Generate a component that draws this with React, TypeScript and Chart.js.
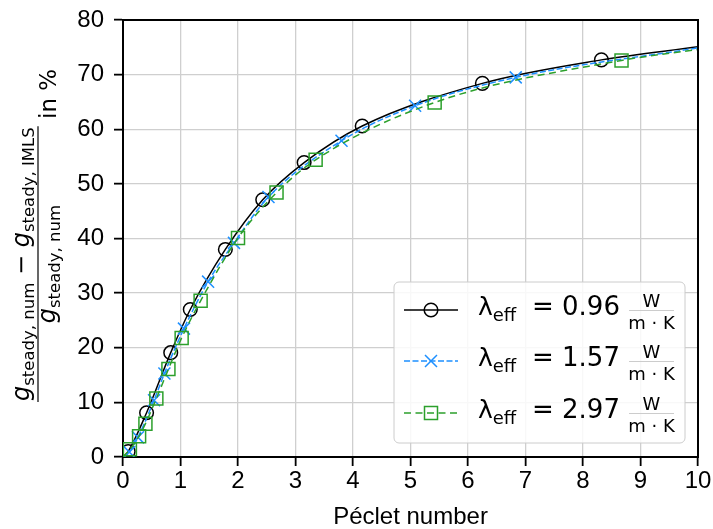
import React, { useEffect, useRef } from "react";
import { Chart, registerables } from "chart.js";

Chart.register(...registerables);

// Péclet number (x) and deviation in % (y) at marker positions
const peBlack = [0.09, 0.41, 0.83, 1.17, 1.78, 2.43, 3.15, 4.16, 6.25, 8.32];
const devBlack = [1.0, 8.1, 19.1, 27.0, 38.0, 47.1, 53.9, 60.6, 68.4, 72.7];
const peBlue = [0.11, 0.26, 0.54, 0.72, 1.06, 1.48, 1.93, 2.53, 3.8, 5.08, 6.83];
const devBlue = [0.9, 3.6, 10.4, 15.3, 23.5, 32.1, 39.2, 47.6, 57.9, 64.3, 69.5];
const peGreen = [0.12, 0.28, 0.39, 0.58, 0.79, 1.02, 1.35, 2.0, 2.67, 3.35, 5.42, 8.67];
const devGreen = [1.4, 3.8, 6.1, 10.7, 16.1, 21.8, 28.6, 40.1, 48.4, 54.4, 64.9, 72.6];
// curve start / end values (Pe = 0 and Pe = 10)
const peStart = 0;
const peEnd = 10;
const devStart = [0, 0, 0];
const devEnd = [75.1, 74.9, 74.6];

const lambdaValues = ["0.96", "1.57", "2.97"];
const xTicks = [0, 1, 2, 3, 4, 5, 6, 7, 8, 9, 10];
const yTicks = [0, 10, 20, 30, 40, 50, 60, 70, 80];
const xTitle = "Péclet number";

const BLACK = "#000000";
const BLUE = "#1e90ff";
const GREEN = "#2ca02c";

function buildPoints(xs: number[], ys: number[], s: number, e: number) {
  const pts = [{ x: peStart, y: s }];
  xs.forEach((x, i) => pts.push({ x, y: ys[i] }));
  pts.push({ x: peEnd, y: e });
  return pts;
}
function radii(n: number, r: number) {
  const arr = [0];
  for (let i = 0; i < n; i++) arr.push(r);
  arr.push(0);
  return arr;
}

const MATH = '"DejaVu Sans"';

type Run = { t: string; size: number; italic?: boolean; dy?: number };
function setFont(ctx: CanvasRenderingContext2D, r: Run) {
  ctx.font = `${r.italic ? "oblique " : ""}${r.size}px ${MATH}`;
}
function runsWidth(ctx: CanvasRenderingContext2D, runs: Run[]) {
  let w = 0;
  for (const r of runs) {
    setFont(ctx, r);
    w += ctx.measureText(r.t).width;
  }
  return w;
}
function drawRuns(ctx: CanvasRenderingContext2D, runs: Run[], x: number, y: number) {
  let cx = x;
  for (const r of runs) {
    setFont(ctx, r);
    ctx.fillText(r.t, cx, y + (r.dy || 0));
    cx += ctx.measureText(r.t).width;
  }
  return cx;
}

function drawMarker(ctx: CanvasRenderingContext2D, kind: string, x: number, y: number, color: string) {
  ctx.save();
  ctx.strokeStyle = color;
  ctx.lineWidth = 1.5;
  ctx.setLineDash([]);
  ctx.beginPath();
  if (kind === "circle") {
    ctx.arc(x, y, 6.8, 0, Math.PI * 2);
  } else if (kind === "cross") {
    ctx.moveTo(x - 6, y - 6);
    ctx.lineTo(x + 6, y + 6);
    ctx.moveTo(x - 6, y + 6);
    ctx.lineTo(x + 6, y - 6);
  } else {
    ctx.rect(x - 6.5, y - 6.5, 13, 13);
  }
  ctx.stroke();
  ctx.restore();
}

const overlay = {
  id: "overlay",
  afterDraw(chart: any) {
    const ctx: CanvasRenderingContext2D = chart.ctx;
    const a = chart.chartArea;
    ctx.save();
    // top and right spines
    ctx.strokeStyle = "#000";
    ctx.lineWidth = 2;
    ctx.setLineDash([]);
    ctx.beginPath();
    ctx.moveTo(a.left - 1, a.top);
    ctx.lineTo(a.right, a.top);
    ctx.lineTo(a.right, a.bottom + 1);
    ctx.stroke();

    // y-axis label (rotated fraction)
    ctx.fillStyle = "#000";
    ctx.textAlign = "left";
    ctx.textBaseline = "alphabetic";
    ctx.save();
    ctx.translate(0, 402);
    ctx.rotate(-Math.PI / 2);
    const num: Run[] = [
      { t: "g", size: 24, italic: true },
      { t: "steady, num", size: 16.5, dy: 5 },
      { t: " − ", size: 24 },
      { t: "g", size: 24, italic: true },
      { t: "steady, IMLS", size: 16.5, dy: 5 },
    ];
    const den: Run[] = [
      { t: "g", size: 24, italic: true },
      { t: "steady, num", size: 16.5, dy: 5 },
    ];
    const wn = runsWidth(ctx, num);
    const wd = runsWidth(ctx, den);
    const wf = Math.max(wn, wd) + 2;
    drawRuns(ctx, num, (wf - wn) / 2, 29);
    drawRuns(ctx, den, (wf - wd) / 2, 55);
    ctx.lineWidth = 1.2;
    ctx.beginPath();
    ctx.moveTo(0, 38);
    ctx.lineTo(wf, 38);
    ctx.stroke();
    drawRuns(ctx, [{ t: " in %", size: 23 }], wf, 56);
    ctx.restore();

    // legend
    const bx = a.right - 304;
    const by = a.bottom - 175;
    const bw = 291;
    const bh = 161;
    ctx.beginPath();
    const r = 5;
    ctx.moveTo(bx + r, by);
    ctx.arcTo(bx + bw, by, bx + bw, by + bh, r);
    ctx.arcTo(bx + bw, by + bh, bx, by + bh, r);
    ctx.arcTo(bx, by + bh, bx, by, r);
    ctx.arcTo(bx, by, bx + bw, by, r);
    ctx.closePath();
    ctx.fillStyle = "rgba(255,255,255,0.85)";
    ctx.fill();
    ctx.strokeStyle = "#cccccc";
    ctx.lineWidth = 1;
    ctx.stroke();

    const rows = [
      { color: BLACK, dash: [] as number[], marker: "circle", yc: by + 28 },
      { color: BLUE, dash: [6, 2.5], marker: "cross", yc: by + 79 },
      { color: GREEN, dash: [7, 4.5], marker: "square", yc: by + 131 },
    ];
    rows.forEach((row, i) => {
      const yc = row.yc;
      ctx.save();
      ctx.strokeStyle = row.color;
      ctx.lineWidth = 1.5;
      ctx.setLineDash(row.dash);
      ctx.beginPath();
      ctx.moveTo(bx + 10, yc);
      ctx.lineTo(bx + 64, yc);
      ctx.stroke();
      ctx.restore();
      drawMarker(ctx, row.marker, bx + 37, yc, row.color);

      ctx.fillStyle = "#000";
      ctx.textAlign = "left";
      drawRuns(ctx, [{ t: "λ", size: 25 }, { t: "eff", size: 18, dy: 6 }], bx + 84, yc + 5);
      drawRuns(ctx, [{ t: "= " + lambdaValues[i], size: 26 }], bx + 138, yc + 5);
      // fraction W / (m · K)
      const fx0 = bx + 235;
      const fx1 = bx + 280;
      const fc = (fx0 + fx1) / 2;
      ctx.lineWidth = 1;
      ctx.beginPath();
      ctx.moveTo(fx0, yc + 0.5);
      ctx.lineTo(fx1, yc + 0.5);
      ctx.stroke();
      ctx.textAlign = "center";
      ctx.font = `18px ${MATH}`;
      ctx.fillText("W", fc, yc - 3);
      ctx.fillText("m · K", fc, yc + 19);
      ctx.textAlign = "left";
    });
    ctx.restore();
  },
};

export default function App() {
  const ref = useRef<HTMLCanvasElement | null>(null);
  useEffect(() => {
    if (!ref.current) return;
    const tickFont = { family: '"Liberation Sans", Arial, sans-serif', size: 24 };
    const common = {
      type: "linear" as const,
      grid: {
        color: "#cfcfcf",
        lineWidth: 1.3,
        tickColor: "#000",
        tickWidth: 1.8,
        tickLength: 9,
        drawTicks: true,
      },
      border: { color: "#000", width: 2 },
    };
    const chart = new Chart(ref.current, {
      type: "line",
      data: {
        datasets: [
          {
            label: "λeff = 0.96",
            data: buildPoints(peBlack, devBlack, devStart[0], devEnd[0]),
            borderColor: BLACK,
            borderWidth: 1.5,
            pointStyle: "circle",
            pointRadius: radii(peBlack.length, 6.8),
            pointBorderColor: BLACK,
            pointBackgroundColor: "rgba(0,0,0,0)",
            pointBorderWidth: 1.5,
            cubicInterpolationMode: "monotone",
            fill: false,
            order: 2,
          },
          {
            label: "λeff = 1.57",
            data: buildPoints(peBlue, devBlue, devStart[1], devEnd[1]),
            borderColor: BLUE,
            borderWidth: 1.5,
            borderDash: [6, 2.5],
            pointStyle: "crossRot",
            pointRadius: radii(peBlue.length, 8.5),
            pointBorderColor: BLUE,
            pointBackgroundColor: "rgba(0,0,0,0)",
            pointBorderWidth: 1.5,
            cubicInterpolationMode: "monotone",
            fill: false,
            order: 1,
          },
          {
            label: "λeff = 2.97",
            data: buildPoints(peGreen, devGreen, devStart[2], devEnd[2]),
            borderColor: GREEN,
            borderWidth: 1.5,
            borderDash: [7, 4.5],
            pointStyle: "rect",
            pointRadius: radii(peGreen.length, 9.2),
            pointBorderColor: GREEN,
            pointBackgroundColor: "rgba(0,0,0,0)",
            pointBorderWidth: 1.5,
            cubicInterpolationMode: "monotone",
            fill: false,
            order: 0,
          },
        ],
      },
      options: {
        animation: false,
        responsive: true,
        maintainAspectRatio: false,
        layout: { padding: { top: 20, right: 15, left: 0, bottom: 0 } },
        plugins: { legend: { display: false }, tooltip: { enabled: false } },
        scales: {
          x: {
            ...common,
            min: 0,
            max: 10,
            afterBuildTicks: (s: any) => {
              s.ticks = xTicks.map((v) => ({ value: v }));
            },
            ticks: { font: tickFont, color: "#000", padding: 1, maxRotation: 0, autoSkip: false },
            title: {
              display: true,
              text: xTitle,
              font: { family: '"Liberation Sans", Arial, sans-serif', size: 24 },
              color: "#000",
              padding: { top: 0, bottom: -3 },
            },
            afterFit: (s: any) => {
              s.height = 72;
            },
          },
          y: {
            ...common,
            min: 0,
            max: 80,
            afterBuildTicks: (s: any) => {
              s.ticks = yTicks.map((v) => ({ value: v }));
            },
            ticks: { font: tickFont, color: "#000", padding: 10, autoSkip: false },
            afterFit: (s: any) => {
              s.width = 123;
              s.paddingTop = 0;
              s.paddingBottom = 0;
            },
          },
        },
      } as any,
      plugins: [overlay],
    });
    return () => chart.destroy();
  }, []);
  return (
    <div style={{ position: "fixed", left: 0, top: 0, width: 713, height: 529, background: "#fff" }}>
      <canvas ref={ref} />
    </div>
  );
}
